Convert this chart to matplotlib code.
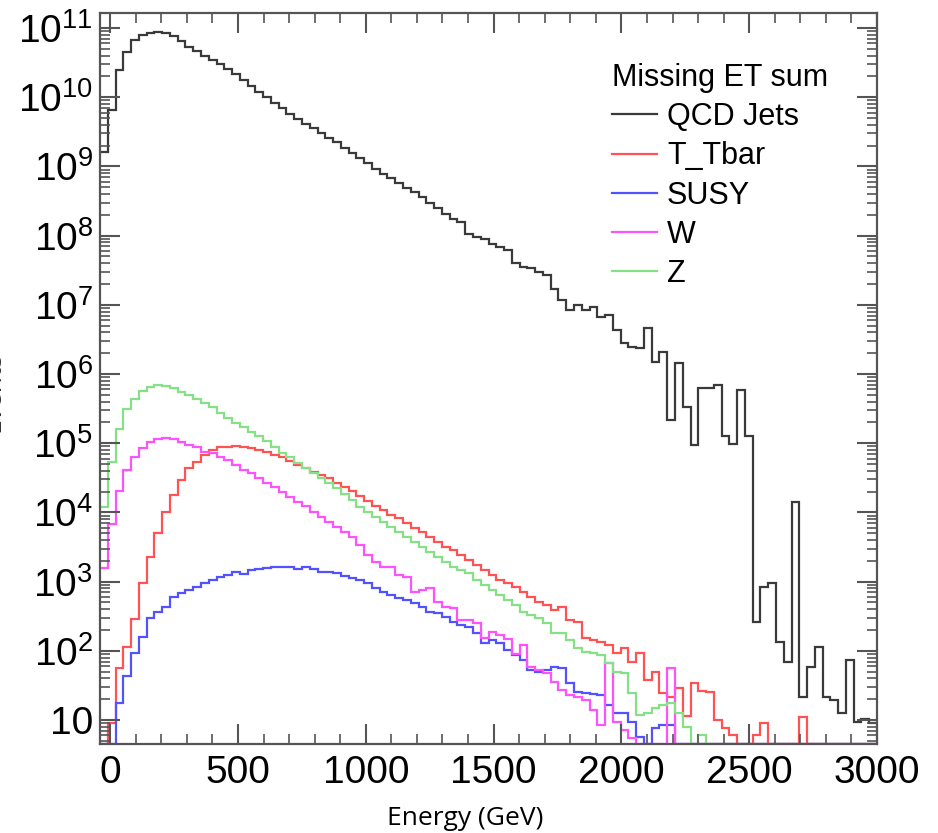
import numpy as np
import matplotlib
matplotlib.use("Agg")
import matplotlib.pyplot as plt
from matplotlib.ticker import FixedLocator, FixedFormatter, MultipleLocator, LogLocator, NullFormatter
from matplotlib.lines import Line2D

# ---------------- data (log10 of bin contents, None = empty bin) ----------------
bin_low, bin_high, n_bins = -40.0, 3000.0, 100

qcd_log10 = [
    9.21, 9.82, 10.40, 10.66, 10.83, 10.90, 10.93, 10.95, 10.93, 10.89,
    10.81, 10.72, 10.67, 10.60, 10.54, 10.475, 10.41, 10.33, 10.245, 10.16,
    10.075, 10.00, 9.92, 9.845, 9.76, 9.68, 9.61, 9.55, 9.48, 9.415,
    9.35, 9.26, 9.19, 9.12, 9.055, 8.97, 8.895, 8.83, 8.76, 8.69,
    8.625, 8.56, 8.47, 8.40, 8.31, 8.235, 8.19, 8.025, 7.985, 7.945,
    7.88, 7.84, 7.79, 7.61, 7.55, 7.53, 7.48, 7.43, 7.223, 7.069,
    6.924, 6.997, 6.924, 6.973, 6.828, 6.852, 6.635, 6.443, 6.395, 6.37,
    6.66, 6.178, 6.322, 5.335, 6.154, 5.528, 4.974, 5.793, 5.793, 5.841,
    5.104, 4.983, 5.768, 5.104, 2.421, 2.927, 2.975, 2.132, 1.843, 4.15,
    1.337, 1.77, 2.05, 1.337, 1.289, 1.096, 1.867, 0.976, 1.01, 0.952,
]

ttbar_log10 = [
    None, 0.952, 1.747, 2.05, 2.455, 2.975, 3.36, 3.698, 4.011, 4.252,
    4.468, 4.637, 4.733, 4.83, 4.902, 4.94, 4.95, 4.955, 4.945, 4.926,
    4.902, 4.878, 4.83, 4.796, 4.748, 4.685, 4.637, 4.589, 4.541, 4.492,
    4.43, 4.372, 4.314, 4.237, 4.165, 4.092, 4.034, 3.962, 3.914, 3.842,
    3.769, 3.721, 3.649, 3.577, 3.505, 3.456, 3.384, 3.312, 3.24, 3.167,
    3.095, 3.023, 2.975, 2.927, 2.854, 2.782, 2.71, 2.662, 2.59, 2.638,
    2.445, 2.421, 2.18, 2.156, 2.132, 2.084, 1.963, 2.035, 1.843, 1.963,
    1.578, 1.698, 1.385, 1.337, 1.457, 1.06, 1.53, 1.42, 1.409, 1.0,
    0.88, 0.783, None, None, 0.783, 0.952, None, None, None, None,
    1.048, None, None, None, None, None, None, None, None, None,
]

susy_log10 = [
    None, None, 1.241, 1.636, 1.964, 2.205, 2.469, 2.566, 2.638, 2.782,
    2.83, 2.879, 2.927, 2.975, 3.023, 3.071, 3.096, 3.134, 3.11, 3.168,
    3.182, 3.202, 3.216, 3.216, 3.216, 3.182, 3.216, 3.182, 3.144, 3.144,
    3.12, 3.081, 3.048, 3.023, 2.975, 2.903, 2.854, 2.806, 2.758, 2.734,
    2.686, 2.637, 2.565, 2.541, 2.493, 2.421, 2.373, 2.348, 2.252, 2.108,
    2.156, 2.108, 2.011, 1.939, 1.867, 1.722, 1.698, 1.722, 1.77, 1.746,
    1.53, 1.409, 1.385, 1.375, 1.361, 1.217, 1.096, 1.096, 0.976, 0.759,
    None, 0.88, 0.928, 0.928, None, None, None, None, None, None,
    None, None, None, None, None, None, None, None, None, None,
    None, None, None, None, None, None, None, None, None, None,
]

w_log10 = [
    3.192, 3.833, 4.314, 4.613, 4.796, 4.926, 5.022, 5.061, 5.08, 5.061,
    5.022, 4.974, 4.94, 4.878, 4.854, 4.796, 4.758, 4.685, 4.613, 4.565,
    4.492, 4.42, 4.372, 4.30, 4.228, 4.155, 4.093, 4.011, 3.939, 3.866,
    3.794, 3.722, 3.65, 3.53, 3.384, 3.288, 3.216, 3.216, 3.095, 3.071,
    2.854, 2.878, 2.902, 2.71, 2.637, 2.613, 2.445, 2.445, 2.397, 2.18,
    2.276, 2.23, 2.17, 1.95, 2.084, 1.76, 1.722, 1.68, 1.55, 1.433,
    1.361, 1.337, 1.289, 1.144, 0.928, 1.819, 0.976, 0.855, 0.735, None,
    None, None, None, 1.746, None, None, None, None, None, None,
    None, None, None, None, None, None, None, None, None, None,
    None, None, None, None, None, None, None, None, None, None,
]

z_log10 = [
    4.073, 4.733, 5.201, 5.49, 5.634, 5.759, 5.817, 5.841, 5.827, 5.793,
    5.745, 5.697, 5.634, 5.576, 5.518, 5.432, 5.36, 5.287, 5.23, 5.167,
    5.104, 5.037, 4.95, 4.854, 4.796, 4.709, 4.637, 4.565, 4.492, 4.42,
    4.348, 4.266, 4.18, 4.083, 4.011, 3.938, 3.866, 3.794, 3.721, 3.649,
    3.577, 3.505, 3.432, 3.36, 3.288, 3.216, 3.167, 3.119, 3.023, 2.95,
    2.878, 2.806, 2.734, 2.662, 2.565, 2.517, 2.469, 2.397, 2.264, 2.252,
    2.156, 2.035, 1.987, 1.963, 1.939, 1.819, 1.698, 1.674, 1.385, 1.072,
    1.096, 1.169, 1.217, 1.241, 1.096, 0.904, None, 0.783, None, None,
    None, None, None, None, None, None, None, None, None, None,
    None, None, None, None, None, None, None, None, None, None,
]

series_names = ["QCD Jets", "T_Tbar", "SUSY", "W", "Z"]
series_data = [qcd_log10, ttbar_log10, susy_log10, w_log10, z_log10]
series_colors = ["#3a3a3a", "#ff5252", "#5252ff", "#ff52ff", "#86e086"]

legend_title = "Missing ET sum"
x_label = "Energy (GeV)"
y_label = "Events"
x_ticks = [0, 500, 1000, 1500, 2000, 2500, 3000]
y_ticks = [1e1, 1e2, 1e3, 1e4, 1e5, 1e6, 1e7, 1e8, 1e9, 1e10, 1e11]
y_tick_labels = ["10"] + [r"$\mathregular{10^{%d}}$" % p for p in range(2, 12)]

# ---------------- style ----------------
plt.rcParams["font.family"] = ["Liberation Sans", "DejaVu Sans"]
plt.rcParams["mathtext.fontset"] = "custom"
plt.rcParams["mathtext.rm"] = "Liberation Sans"
plt.rcParams["mathtext.it"] = "Liberation Sans:italic"
plt.rcParams["mathtext.bf"] = "Liberation Sans:bold"

W, H = 938, 833
fig = plt.figure(figsize=(W / 100, H / 100), dpi=100)
ax = fig.add_axes([100 / W, 1 - 744 / H, (877 - 100) / W, (744 - 13) / H])

ymin, ymax = 4.5, 1.65e11
edges = np.linspace(bin_low, bin_high, n_bins + 1)

for name, data, col in zip(series_names, series_data, series_colors):
    vals = np.array([0.0 if v is None else 10.0 ** v for v in data])
    ax.stairs(np.clip(vals, ymin, None), edges, color=col, lw=1.6,
              baseline=None, label=name)

ax.set_yscale("log")
ax.set_xlim(-40, 3000)
ax.set_ylim(ymin, ymax)

ax.xaxis.set_major_locator(FixedLocator(x_ticks))
ax.xaxis.set_minor_locator(MultipleLocator(100))
ax.yaxis.set_major_locator(FixedLocator(y_ticks))
ax.yaxis.set_major_formatter(FixedFormatter(y_tick_labels))
ax.yaxis.set_minor_locator(LogLocator(base=10, subs=np.arange(2, 10), numticks=30))
ax.yaxis.set_minor_formatter(NullFormatter())

tick_col = "#555555"
ax.tick_params(which="both", direction="in", top=True, right=True,
               color=tick_col, labelcolor="black", labelsize=28)
ax.tick_params(which="major", length=14.5, width=1.5)
ax.tick_params(which="minor", length=7.5, width=1.2)
ax.tick_params(axis="y", pad=5)
ax.tick_params(axis="x", pad=8)
for sp in ax.spines.values():
    sp.set_color(tick_col)
    sp.set_linewidth(1.6)

ax.set_xlabel(x_label, fontsize=19, family=["Open Sans", "DejaVu Sans"])
ax.xaxis.set_label_coords((465 - 100) / 777, (744 - 806) / 731)
fig.text(-0.008, 1 - 392 / H, y_label, rotation=90, fontsize=19, ha="center", va="center",
         family=["Open Sans", "DejaVu Sans"], color="#333333")

handles = [Line2D([], [], color=c, lw=1.6) for c in series_colors]
leg = ax.legend(handles, series_names, title=legend_title, loc="upper left",
                bbox_to_anchor=(612 / W, 1 - 63 / H), bbox_transform=fig.transFigure,
                frameon=False, fontsize=22, title_fontsize=22, handlelength=1.47,
                handletextpad=0.33, labelspacing=0.3, borderpad=0, borderaxespad=0)
leg._legend_box.align = "left"

fig.savefig("out.png", dpi=100)
